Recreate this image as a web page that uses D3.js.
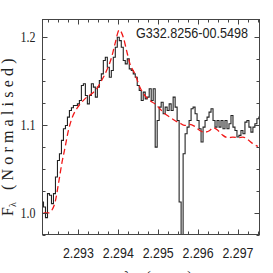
<!DOCTYPE html>
<html>
<head>
<meta charset="utf-8">
<script src="https://cdn.jsdelivr.net/npm/d3@7"></script>
<style>
  html, body { margin: 0; padding: 0; background: #fff; }
  svg { display: block; }
</style>
</head>
<body>
<svg width="273" height="273"></svg>
<script>
let svg = d3.select("svg");

// observed spectrum (wavelength in micron, normalised flux)
let wave = [
  2.29210, 2.29215, 2.29220, 2.29225, 2.29230, 2.29235, 2.29240, 2.29245, 2.29250, 2.29255,
  2.29260, 2.29265, 2.29270, 2.29275, 2.29280, 2.29285, 2.29290, 2.29295, 2.29300, 2.29305,
  2.29310, 2.29315, 2.29320, 2.29325, 2.29330, 2.29335, 2.29340, 2.29345, 2.29350, 2.29355,
  2.29360, 2.29365, 2.29370, 2.29375, 2.29380, 2.29385, 2.29390, 2.29395, 2.29400, 2.29405,
  2.29410, 2.29415, 2.29420, 2.29425, 2.29430, 2.29435, 2.29440, 2.29445, 2.29450, 2.29455,
  2.29460, 2.29465, 2.29470, 2.29475, 2.29480, 2.29485, 2.29490, 2.29495, 2.29500, 2.29505,
  2.29510, 2.29515, 2.29520, 2.29525, 2.29530, 2.29535, 2.29540, 2.29545, 2.29550, 2.29555,
  2.29560, 2.29565, 2.29570, 2.29575, 2.29580, 2.29585, 2.29590, 2.29595, 2.29600, 2.29605,
  2.29610, 2.29615, 2.29620, 2.29625, 2.29630, 2.29635, 2.29640, 2.29645, 2.29650, 2.29655,
  2.29660, 2.29665, 2.29670, 2.29675, 2.29680, 2.29685, 2.29690, 2.29695, 2.29700, 2.29705,
  2.29710, 2.29715, 2.29720, 2.29725, 2.29730, 2.29735, 2.29740, 2.29745, 2.29750, 2.29755
];
let flux = [
  1.0125, 1.0068, 0.9947, 1.0220, 1.0201, 1.0106, 1.0220, 1.0409, 1.0598, 1.0674,
  1.0826, 1.0958, 1.0996, 1.1091, 1.1167, 1.1197, 1.1223, 1.1223, 1.1242, 1.1280,
  1.1451, 1.1470, 1.1337, 1.1242, 1.1337, 1.1470, 1.1432, 1.1318, 1.1432, 1.1508,
  1.1583, 1.1735, 1.1773, 1.1659, 1.1545, 1.1621, 1.1773, 1.1886, 1.2000, 1.1962,
  1.1886, 1.1735, 1.1697, 1.1754, 1.1640, 1.1621, 1.1583, 1.1545, 1.1451, 1.1394,
  1.1280, 1.1375, 1.1299, 1.1318, 1.1413, 1.1280, 1.1413, 1.0750, 1.1053, 1.1205,
  1.1261, 1.1129, 1.1205, 1.1167, 1.1242, 1.1167, 1.1318, 1.1205, 1.1053, 1.0125,
  0.9540, 1.0674, 1.0902, 1.0977, 1.1053, 1.1186, 1.1205, 1.1129, 1.1053, 1.0958,
  1.0807, 1.0977, 1.1053, 1.1091, 1.1148, 1.1186, 1.1053, 1.0977, 1.1053, 1.0977,
  1.1053, 1.0958, 1.1053, 1.0958, 1.1015, 1.1110, 1.0977, 1.0939, 1.0864, 1.0883,
  1.0939, 1.0902, 1.1034, 1.1053, 1.0977, 1.0920, 1.0977, 1.1015, 1.1072, 1.1091
];

// model fit (red dashed)
let modelWave = [
  2.292125, 2.29225, 2.292333, 2.292417, 2.2925, 2.292583, 2.292667, 2.29275, 2.292833, 2.292958,
  2.293083, 2.293208, 2.293333, 2.293458, 2.293583, 2.293708, 2.293833, 2.293917, 2.294025, 2.294125,
  2.294208, 2.294292, 2.294417, 2.294542, 2.294667, 2.294792, 2.294917, 2.295042, 2.295167, 2.295292,
  2.295417, 2.295542, 2.295667, 2.295792, 2.295917, 2.296042, 2.296167, 2.296292, 2.296375, 2.2965,
  2.296625, 2.29675, 2.296875, 2.297, 2.297125, 2.29725, 2.297375, 2.2975
];
let modelFlux = [
  1.0000, 1.0000, 1.0030, 1.0125, 1.0333, 1.0561, 1.0750, 1.0939, 1.1072, 1.1186,
  1.1261, 1.1318, 1.1356, 1.1413, 1.1508, 1.1621, 1.1773, 1.1924, 1.2083, 1.2000,
  1.1848, 1.1697, 1.1583, 1.1432, 1.1337, 1.1280, 1.1242, 1.1186, 1.1129, 1.1091,
  1.1053, 1.1023, 1.0996, 1.1008, 1.0985, 1.0939, 1.0920, 1.0939, 1.0970, 1.0939,
  1.0883, 1.0856, 1.0864, 1.0856, 1.0864, 1.0833, 1.0788, 1.0758
];

let xTicks = [2.293, 2.294, 2.295, 2.296, 2.297];
let yTicks = [1.0, 1.1, 1.2];
let sourceName = "G332.8256-00.5498";

let pLeft = 42.5, pRight = 259.5, pTop = 19.5, pBottom = 234.5;

let x = d3.scaleLinear().domain([2.2921, 2.29754]).range([pLeft, pRight]);
let y = d3.scaleLinear().domain([0.9755, 1.2202]).range([pBottom, pTop]);

let xMinor = d3.range(2.29225, 2.29755, 0.00025);
let yMinor = d3.range(0.975, 1.22, 0.025);

svg.append("clipPath")
  .attr("id", "plotclip")
  .append("rect")
  .attr("x", pLeft)
  .attr("y", pTop)
  .attr("width", pRight - pLeft)
  .attr("height", pBottom - pTop);

let plot = svg.append("g").attr("clip-path", "url(#plotclip)");

let specLine = d3
  .line()
  .x((d, i) => x(wave[i]))
  .y((d) => y(d))
  .curve(d3.curveStep);

plot
  .append("path")
  .attr("d", specLine(flux))
  .attr("fill", "none")
  .attr("stroke", "#222")
  .attr("stroke-width", 1.1);

let modelLine = d3
  .line()
  .x((d, i) => x(modelWave[i]))
  .y((d) => y(d))
  .curve(d3.curveMonotoneX);

plot
  .append("path")
  .attr("d", modelLine(modelFlux))
  .attr("fill", "none")
  .attr("stroke", "#f01818")
  .attr("stroke-width", 1.3)
  .attr("stroke-dasharray", "6,3.5");

// ticks, all pointing inwards
let tickColor = "#444";
function tickLines(vals, len, side) {
  let g = svg.append("g").attr("stroke", tickColor).attr("stroke-width", 1);
  vals.forEach((v) => {
    let px = Math.round(x(v)) + 0.5;
    let py = Math.round(y(v)) + 0.5;
    if (side === "bottom") g.append("line").attr("x1", px).attr("x2", px).attr("y1", pBottom).attr("y2", pBottom - len);
    if (side === "top") g.append("line").attr("x1", px).attr("x2", px).attr("y1", pTop).attr("y2", pTop + len);
    if (side === "left") g.append("line").attr("y1", py).attr("y2", py).attr("x1", pLeft).attr("x2", pLeft + len);
    if (side === "right") g.append("line").attr("y1", py).attr("y2", py).attr("x1", pRight).attr("x2", pRight - len);
  });
}
tickLines(xMinor, 3, "bottom");
tickLines(xMinor, 3, "top");
tickLines(xTicks, 5, "bottom");
tickLines(xTicks, 5, "top");
tickLines(yMinor, 3, "left");
tickLines(yMinor, 3, "right");
tickLines(yTicks, 5, "left");
tickLines(yTicks, 5, "right");

svg
  .append("rect")
  .attr("x", pLeft)
  .attr("y", pTop)
  .attr("width", pRight - pLeft)
  .attr("height", pBottom - pTop)
  .attr("fill", "none")
  .attr("stroke", tickColor)
  .attr("stroke-width", 1);

// tick labels
svg
  .append("g")
  .selectAll("text")
  .data(xTicks)
  .enter()
  .append("text")
  .attr("x", (d) => x(d))
  .attr("y", 258)
  .attr("text-anchor", "middle")
  .attr("textLength", 31)
  .attr("lengthAdjust", "spacingAndGlyphs")
  .style("font-family", "'Liberation Sans', Arial, sans-serif")
  .style("font-size", "15px")
  .attr("fill", "#222")
  .text((d) => d.toFixed(3));

svg
  .append("g")
  .selectAll("text")
  .data(yTicks)
  .enter()
  .append("text")
  .attr("x", 35.5)
  .attr("y", (d) => y(d))
  .attr("dy", "0.35em")
  .attr("text-anchor", "end")
  .attr("textLength", 15)
  .attr("lengthAdjust", "spacingAndGlyphs")
  .style("font-family", "'Liberation Serif', 'Times New Roman', serif")
  .style("font-size", "15px")
  .attr("fill", "#222")
  .text((d) => d.toFixed(1));

// source name
svg
  .append("text")
  .attr("x", 136)
  .attr("y", 38)
  .attr("textLength", 112)
  .attr("lengthAdjust", "spacingAndGlyphs")
  .style("font-family", "'Liberation Sans', Arial, sans-serif")
  .style("font-size", "14px")
  .attr("fill", "#222")
  .text(sourceName);

// y axis title
let yt = svg
  .append("text")
  .attr("transform", "translate(13,216) rotate(-90)")
  .style("font-family", "'Liberation Serif', 'Times New Roman', serif")
  .style("font-size", "16px")
  .attr("fill", "#222");
yt.append("tspan").text("F");
yt.append("tspan").attr("dy", 3).style("font-size", "10px").text("λ");
yt.append("tspan").attr("dy", -3).attr("dx", 4).style("letter-spacing", "4.2px").text(" (Normalised)");

// x axis title, mostly cut off by the bottom edge as in the original
svg
  .append("text")
  .attr("x", 158)
  .attr("y", 281)
  .attr("text-anchor", "middle")
  .attr("textLength", 68)
  .attr("lengthAdjust", "spacing")
  .style("font-family", "'Liberation Serif', 'Times New Roman', serif")
  .style("font-size", "15px")
  .attr("fill", "#222")
  .text("λ (μm)");
</script>
</body>
</html>
